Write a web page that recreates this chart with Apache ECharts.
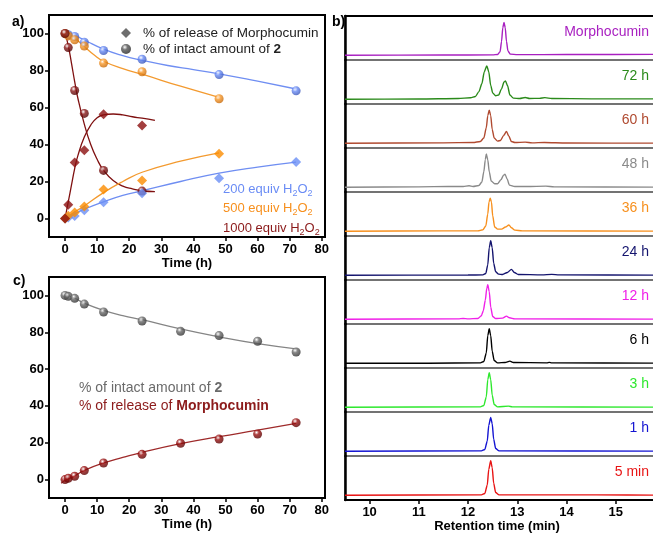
<!DOCTYPE html>
<html>
<head>
<meta charset="utf-8">
<script src="https://cdn.jsdelivr.net/npm/echarts@6/dist/echarts.min.js"></script>
<style>html,body{margin:0;padding:0;background:#fff}</style>
</head>
<body>
<div id="main" style="width:653px;height:533px"></div>
<script>
// ---- panel a: H2O2 equivalents, [time (h), %] ----
const blueIntactA = [[0, 100], [1, 99.3], [3, 98.4], [6, 95.3], [12, 90.8], [24, 86.1], [48, 77.8], [72, 69]]
const orangeIntactA = [[0, 100], [1, 98.7], [3, 96.6], [6, 93.2], [12, 84], [24, 79.3], [48, 64.7]]
const redIntactA = [[0, 100], [1, 92.4], [3, 69.2], [6, 56.8], [12, 26], [24, 14.8]]
const blueReleaseA = [[0, 0], [1, 0.5], [3, 1.4], [6, 4.5], [12, 8.8], [24, 13.7], [48, 21.8], [72, 30.5]]
const orangeReleaseA = [[0, 0], [1, 1.5], [3, 3.2], [6, 6.5], [12, 15.7], [24, 20.5], [48, 35]]
const redReleaseA = [[0, 0], [1, 7.4], [3, 30.3], [6, 36.9], [12, 56.4], [24, 50.3]]

// fitted curves
const blueIntactFit = [[0, 101.5], [3, 99], [6, 96.5], [12, 91.5], [18, 88], [24, 85.5], [32, 82.7], [40, 80.5], [48, 78.2], [60, 74.2], [72, 70]]
const orangeIntactFit = [[0, 101], [3, 97.5], [6, 93], [9, 88.5], [12, 85], [18, 81], [24, 78], [36, 71.5], [48, 65.5]]
const redIntactFit = [[0, 100.5], [1, 93.5], [2, 84], [3, 74], [4, 65], [6, 51], [8, 40], [10, 32], [12, 26], [15, 20.5], [18, 17.5], [21, 16], [24, 15], [28, 14.5]]
const blueReleaseFit = [[0, 0], [3, 2.5], [6, 5], [12, 9], [18, 12.5], [24, 15], [36, 20], [48, 24.5], [60, 27.8], [72, 30.5]]
const orangeReleaseFit = [[0, 0], [3, 3.5], [6, 6.8], [12, 14], [18, 20], [24, 25], [36, 31], [48, 35.5]]
const redReleaseFit = [[0, 0], [1, 9], [2, 18], [3, 27], [4, 34], [6, 44], [8, 50.5], [10, 54.5], [12, 56], [15, 56.5], [18, 56], [21, 55], [24, 54.2], [28, 53]]

// ---- panel c ----
const intactC = [[0, 100], [1, 99.5], [3, 98.4], [6, 95.3], [12, 91], [24, 86.1], [36, 80.5], [48, 78.2], [60, 75.1], [72, 69.3]]
const releaseC = [[0, 0], [1, 0.7], [3, 1.8], [6, 4.9], [12, 9], [24, 13.7], [36, 19.7], [48, 22], [60, 24.7], [72, 30.9]]
const intactFitC = [[0, 100.5], [3, 98.5], [6, 95.8], [12, 91.9], [18, 89], [24, 86.8], [36, 81.8], [48, 77.5], [60, 73.8], [72, 71]]
const releaseFitC = [[-1.2, -2], [0, -0.5], [3, 2], [6, 5], [12, 9], [18, 12], [24, 14.8], [36, 19.5], [48, 23.3], [60, 26.8], [72, 30.5]]

const timeTicks = [0, 10, 20, 30, 40, 50, 60, 70, 80]
const percentTicks = [0, 20, 40, 60, 80, 100]
const retentionTicks = [10, 11, 12, 13, 14, 15]

// ---- panel b: HPLC traces, [retention time (min), relative intensity] ----
const traceNames = ['Morphocumin', '72 h', '60 h', '48 h', '36 h', '24 h', '12 h', '6 h', '3 h', '1 h', '5 min']
const traceColors = ['#a81fc0', '#2a8a1a', '#b04a30', '#8a8a8a', '#f7901e', '#14146e', '#f020e8', '#000000', '#2ee82e', '#1414d2', '#e81414']
const traceMorphocumin = [[9.5, 0], [11.5, 0.005], [12.5, 0.01], [12.6, 0.02], [12.65, 0.1], [12.68, 0.4], [12.705, 0.8], [12.73, 0.95], [12.755, 0.8], [12.78, 0.4], [12.81, 0.12], [12.86, 0.03], [13.0, 0.015], [14, 0.02], [16, 0.025]]
const trace72h = [[9.5, 0], [11.0, 0.005], [11.8, 0.02], [12.05, 0.04], [12.15, 0.08], [12.22, 0.22], [12.28, 0.45], [12.33, 0.8], [12.38, 0.97], [12.42, 0.8], [12.46, 0.4], [12.5, 0.18], [12.56, 0.1], [12.62, 0.12], [12.68, 0.3], [12.73, 0.5], [12.76, 0.53], [12.8, 0.4], [12.85, 0.12], [12.92, 0.03], [13.05, 0.02], [13.16, 0.05], [13.25, 0.02], [13.45, 0.025], [13.56, 0.045], [13.7, 0.02], [14.5, 0.01], [16, 0.01]]
const trace60h = [[9.5, 0], [11.5, 0.01], [12.1, 0.02], [12.25, 0.05], [12.32, 0.15], [12.37, 0.45], [12.4, 0.8], [12.43, 0.96], [12.46, 0.8], [12.49, 0.4], [12.53, 0.15], [12.6, 0.06], [12.66, 0.08], [12.72, 0.22], [12.78, 0.34], [12.83, 0.2], [12.88, 0.05], [12.95, 0.02], [13.16, 0.03], [13.3, 0.01], [13.55, 0.02], [14, 0.005], [16, 0]]
const trace48h = [[9.5, 0], [11.0, 0.01], [11.6, 0.02], [11.9, 0.02], [12.02, 0.04], [12.1, 0.02], [12.22, 0.05], [12.28, 0.15], [12.32, 0.45], [12.35, 0.8], [12.37, 0.97], [12.4, 0.8], [12.43, 0.45], [12.47, 0.18], [12.54, 0.1], [12.6, 0.1], [12.67, 0.22], [12.72, 0.35], [12.75, 0.38], [12.79, 0.25], [12.84, 0.06], [12.95, 0.02], [13.2, 0.02], [13.58, 0.03], [13.75, 0.01], [16, 0]]
const trace36h = [[9.5, 0], [11.5, 0.01], [12.2, 0.01], [12.3, 0.04], [12.36, 0.15], [12.4, 0.5], [12.425, 0.85], [12.45, 0.96], [12.475, 0.85], [12.5, 0.45], [12.54, 0.12], [12.6, 0.06], [12.68, 0.06], [12.76, 0.12], [12.83, 0.18], [12.88, 0.1], [12.95, 0.03], [13.1, 0.01], [16, 0]]
const trace24h = [[9.5, 0], [12.0, 0.005], [12.3, 0.01], [12.36, 0.05], [12.4, 0.3], [12.43, 0.8], [12.46, 1.0], [12.49, 0.8], [12.52, 0.35], [12.56, 0.1], [12.62, 0.03], [12.7, 0.02], [12.8, 0.08], [12.88, 0.17], [12.94, 0.08], [13.02, 0.02], [13.5, 0.01], [13.7, 0.025], [13.85, 0.01], [16, 0]]
const trace12h = [[9.5, 0], [11.8, 0.01], [11.9, 0.02], [12.0, 0.01], [12.2, 0.02], [12.27, 0.1], [12.31, 0.25], [12.35, 0.55], [12.38, 0.9], [12.4, 1.0], [12.43, 0.8], [12.46, 0.35], [12.5, 0.08], [12.56, 0.02], [12.7, 0.03], [12.78, 0.09], [12.84, 0.04], [12.95, 0.01], [16, 0]]
const trace6h = [[9.5, 0], [11.2, 0], [12.25, 0.01], [12.32, 0.05], [12.37, 0.3], [12.4, 0.8], [12.43, 1.0], [12.46, 0.8], [12.49, 0.35], [12.53, 0.08], [12.6, 0.01], [12.75, 0.02], [12.85, 0.06], [12.92, 0.02], [13.6, 0.01], [13.65, 0.025], [13.7, 0.01], [16, 0]]
const trace3h = [[9.5, 0], [12.25, 0.01], [12.32, 0.05], [12.37, 0.3], [12.4, 0.8], [12.43, 1.0], [12.46, 0.8], [12.49, 0.35], [12.53, 0.08], [12.6, 0.01], [12.82, 0.03], [12.9, 0.01], [16, 0]]
const trace1h = [[9.5, 0], [12.27, 0.01], [12.34, 0.05], [12.39, 0.3], [12.42, 0.75], [12.46, 0.98], [12.49, 0.8], [12.52, 0.35], [12.56, 0.08], [12.63, 0.01], [16, 0]]
const trace5min = [[9.5, 0], [12.27, 0.01], [12.34, 0.05], [12.39, 0.3], [12.42, 0.75], [12.46, 1.0], [12.49, 0.8], [12.52, 0.35], [12.56, 0.08], [12.63, 0.01], [14.6, 0.01], [16, 0]]
const traces = [traceMorphocumin, trace72h, trace60h, trace48h, trace36h, trace24h, trace12h, trace6h, trace3h, trace1h, trace5min]

const FONT = '"Liberation Sans", Arial, sans-serif'
const relName = '% of release of Morphocumin'
const intName = '% of intact amount of 2'

// shaded ball look for the round markers
const ball = (c, dark) => ({
  type: 'radial', x: 0.38, y: 0.32, r: 0.75,
  colorStops: [{ offset: 0, color: '#ffffff' }, { offset: 0.35, color: c }, { offset: 1, color: dark }],
})

const timeAxis = (gridIndex, nameGap) => ({
  type: 'value', gridIndex, min: -5, max: 81,
  name: 'Time (h)', nameLocation: 'middle', nameGap,
  nameTextStyle: { fontWeight: 'bold', fontSize: 13, color: '#000', fontFamily: FONT },
  axisLine: { onZero: false, lineStyle: { color: '#000', width: 2 } },
  axisTick: { customValues: timeTicks, length: 4, lineStyle: { color: '#000', width: 1.5 } },
  axisLabel: { customValues: timeTicks, fontWeight: 'bold', fontSize: 13, color: '#000', margin: 6, fontFamily: FONT },
  splitLine: { show: false },
})
const percentAxis = (gridIndex) => ({
  type: 'value', gridIndex, min: -10, max: 110,
  axisLine: { onZero: false, lineStyle: { color: '#000', width: 2 } },
  axisTick: { customValues: percentTicks, length: 4, lineStyle: { color: '#000', width: 1.5 } },
  axisLabel: { customValues: percentTicks, fontWeight: 'bold', fontSize: 13, color: '#000', margin: 5, fontFamily: FONT },
  splitLine: { show: false },
})

const fitLine = (data, color, xi) => ({
  type: 'line', data, xAxisIndex: xi, yAxisIndex: xi, smooth: true, showSymbol: false,
  lineStyle: { color, width: 1.3 }, z: 2, silent: true,
})
const dots = (data, color, xi) => ({
  type: 'scatter', data, xAxisIndex: xi, yAxisIndex: xi, symbol: 'circle', symbolSize: 9,
  itemStyle: { color }, z: 3,
})
const diamonds = (data, color) => ({
  type: 'scatter', data, xAxisIndex: 0, yAxisIndex: 0, symbol: 'diamond', symbolSize: 10,
  itemStyle: { color }, z: 3,
})

const grid = [
  { left: 49, top: 15, width: 276, height: 222, show: true, borderColor: '#000', borderWidth: 2, outerBoundsMode: 'none' },
  { left: 49, top: 277, width: 276, height: 221, show: true, borderColor: '#000', borderWidth: 2, outerBoundsMode: 'none' },
]
const xAxis = [timeAxis(0, 15), timeAxis(1, 17)]
const yAxis = [percentAxis(0), percentAxis(1)]
const series = [
  fitLine(blueIntactFit, '#6f8ef2', 0),
  fitLine(orangeIntactFit, '#f39a2f', 0),
  fitLine(redIntactFit, '#7f1010', 0),
  fitLine(blueReleaseFit, '#6f8ef2', 0),
  fitLine(orangeReleaseFit, '#f39a2f', 0),
  fitLine(redReleaseFit, '#7f1010', 0),
  dots(blueIntactA, ball('#6a8cf5', '#3550b0'), 0),
  dots(orangeIntactA, ball('#f89a2c', '#c06000'), 0),
  dots(redIntactA, ball('#8b1a1a', '#4a0000'), 0),
  diamonds(blueReleaseA, '#6a8ff5'),
  diamonds(orangeReleaseA, '#fb8c00'),
  diamonds(redReleaseA, '#8b0f0f'),
  // legend entries only
  { name: relName, type: 'scatter', data: [], xAxisIndex: 0, yAxisIndex: 0, symbol: 'diamond', itemStyle: { color: '#4a4a4a' } },
  { name: intName, type: 'scatter', data: [], xAxisIndex: 0, yAxisIndex: 0, symbol: 'circle', itemStyle: { color: ball('#555', '#222') } },
  // panel c
  fitLine(intactFitC, '#858585', 1),
  fitLine(releaseFitC, '#9e2a2a', 1),
  dots(intactC, ball('#6a6a6a', '#2a2a2a'), 1),
  dots(releaseC, ball('#9b1010', '#500000'), 1),
]

// panel b: one thin grid per trace, stacked
const bandTop = 16
const bandH = 44
traces.forEach((data, i) => {
  const last = i === traces.length - 1
  grid.push({ left: 345, top: bandTop + bandH * i, width: 320, height: bandH, show: true, borderColor: '#6b6b6b', borderWidth: 1.5, outerBoundsMode: 'none' })
  xAxis.push({
    type: 'value', gridIndex: 2 + i, min: 9.5, max: 16,
    axisLine: { show: last, onZero: false, lineStyle: { color: '#000', width: 2 } },
    axisTick: { show: last, customValues: retentionTicks, length: 4, lineStyle: { color: '#000', width: 1.5 } },
    axisLabel: { show: last, customValues: retentionTicks, fontWeight: 'bold', fontSize: 13, color: '#000', margin: 6, fontFamily: FONT },
    splitLine: { show: false },
    name: last ? 'Retention time (min)' : '', nameLocation: 'middle', nameGap: 14,
    nameTextStyle: { fontWeight: 'bold', fontSize: 13, color: '#000', fontFamily: FONT, padding: [0, 16, 0, 0] },
  })
  yAxis.push({
    type: 'value', gridIndex: 2 + i, min: -0.14, max: 1.14,
    axisLine: { show: true, onZero: false, lineStyle: { color: '#000', width: 2.5 } },
    axisTick: { show: false }, axisLabel: { show: false }, splitLine: { show: false },
  })
  series.push({
    type: 'line', data, xAxisIndex: 2 + i, yAxisIndex: 2 + i, smooth: 0.25, smoothMonotone: 'x',
    showSymbol: false, lineStyle: { color: traceColors[i], width: 1.4 }, silent: true,
  })
})
// black frame line on top of panel b
xAxis.push({
  type: 'value', gridIndex: 2, position: 'top', min: 9.5, max: 16,
  axisLine: { onZero: false, lineStyle: { color: '#000', width: 2 } },
  axisTick: { show: false }, axisLabel: { show: false }, splitLine: { show: false },
})

const sub = { fontSize: 9, verticalAlign: 'bottom', lineHeight: 18 }
const graphic = [
  { type: 'text', x: 12, y: 22, style: { text: 'a)', fontSize: 14, fontWeight: 'bold', fontFamily: FONT, fill: '#000', textVerticalAlign: 'middle' } },
  { type: 'text', x: 332, y: 22, style: { text: 'b)', fontSize: 14, fontWeight: 'bold', fontFamily: FONT, fill: '#000', textVerticalAlign: 'middle' } },
  { type: 'text', x: 13, y: 281, style: { text: 'c)', fontSize: 14, fontWeight: 'bold', fontFamily: FONT, fill: '#000', textVerticalAlign: 'middle' } },
]
const equivLabels = [['200', '#6a8cf5', 189], ['500', '#f7901e', 208], ['1000', '#8b1a1a', 228]]
equivLabels.forEach(([n, c, y]) => {
  graphic.push({
    type: 'text', x: 223, y,
    style: {
      text: n + ' equiv H{s|2}O{s|2}', fill: c, fontSize: 13, fontFamily: FONT, textVerticalAlign: 'middle',
      rich: { s: Object.assign({ fill: c, fontFamily: FONT }, sub) },
    },
  })
})
graphic.push(
  {
    type: 'text', x: 79, y: 388,
    style: { text: '% of intact amount of {b|2}', fill: '#6a6a6a', fontSize: 14, fontFamily: FONT, textVerticalAlign: 'middle',
      rich: { b: { fontWeight: 'bold', fontSize: 14, fill: '#6a6a6a', fontFamily: FONT } } },
  },
  {
    type: 'text', x: 79, y: 406,
    style: { text: '% of release of {b|Morphocumin}', fill: '#8c1b1b', fontSize: 14, fontFamily: FONT, textVerticalAlign: 'middle',
      rich: { b: { fontWeight: 'bold', fontSize: 14, fill: '#8c1b1b', fontFamily: FONT } } },
  },
)
traceNames.forEach((name, i) => {
  graphic.push({
    type: 'text', x: 649, y: bandTop + bandH * i + 16,
    style: { text: name, fill: traceColors[i], fontSize: 14, fontFamily: FONT, textAlign: 'right', textVerticalAlign: 'middle' },
  })
})

const option = {
  animation: false,
  backgroundColor: '#fff',
  grid, xAxis, yAxis, series, graphic,
  legend: {
    left: 116, top: 21, orient: 'vertical', itemGap: 2, itemWidth: 10, itemHeight: 10,
    selectedMode: false,
    data: [{ name: relName, icon: 'diamond' }, { name: intName, icon: 'circle' }],
    formatter: (name) => (name === intName ? '{t|% of intact amount of }{b|2}' : '{t|' + name + '}'),
    textStyle: {
      fontFamily: FONT, fontSize: 13.5, color: '#222',
      rich: {
        t: { fontFamily: FONT, fontSize: 13.5, color: '#222', lineHeight: 16, padding: [0, 0, 0, 7] },
        b: { fontFamily: FONT, fontSize: 13.5, color: '#222', fontWeight: 'bold', lineHeight: 16 },
      },
    },
  },
}

const myChart = echarts.init(document.getElementById('main'))
myChart.setOption(option)
</script>
</body>
</html>
